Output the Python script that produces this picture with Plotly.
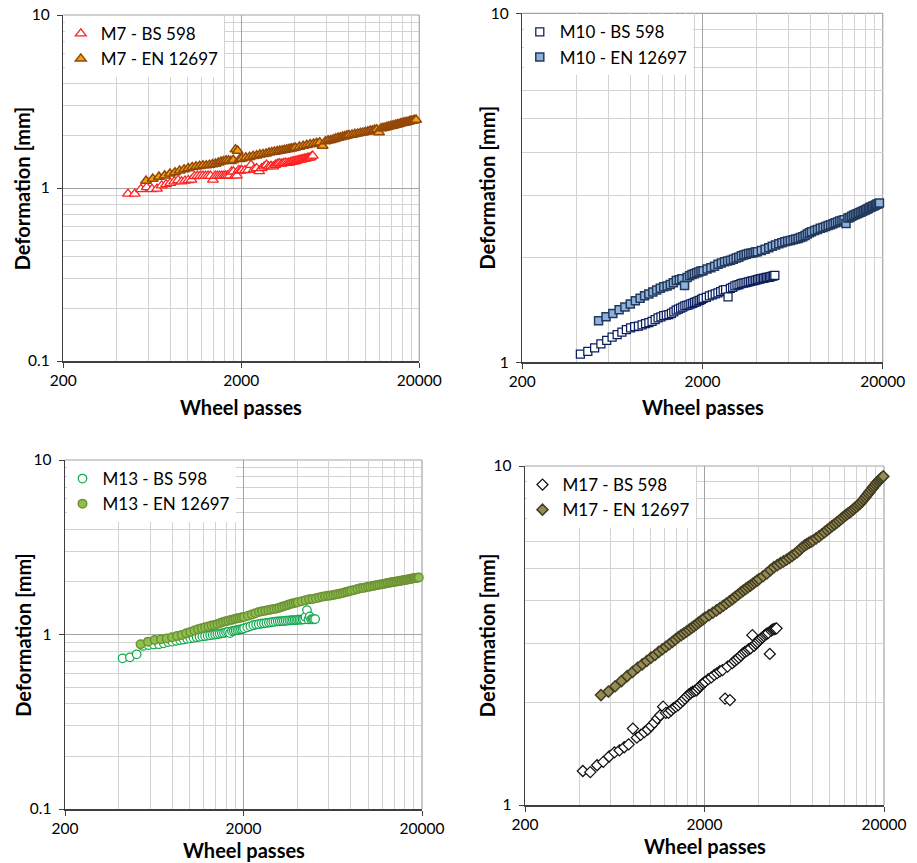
import math
import plotly.graph_objects as go

# ---------------- data ----------------
bs_passes = [420, 462, 504, 546, 588, 630, 672, 714, 756, 798, 840, 882, 924, 966, 1008,
             1050, 1092, 1134, 1176, 1218, 1260, 1302, 1344, 1386, 1428, 1470, 1512, 1554,
             1596, 1638, 1680, 1722, 1764, 1806, 1848, 1890, 1932, 1974, 2016,
             2100, 2184, 2268, 2352, 2436, 2520, 2604, 2688, 2772, 2856, 2940, 3024, 3108,
             3192, 3276, 3360, 3444, 3528, 3612, 3696, 3780, 3864, 3948, 4032, 4116, 4200,
             4284, 4368, 4452, 4536, 4620, 4704, 4788, 4872, 4956, 5040]

en_passes = [530, 583, 636, 689, 742, 795, 848, 901, 954, 1007, 1060, 1113, 1166, 1219, 1272,
             1325, 1378, 1431, 1484, 1537, 1590, 1643, 1696, 1749, 1802, 1855, 1908, 1961, 2014,
             2120, 2226, 2332, 2438, 2544, 2650, 2756, 2862, 2968, 3074, 3180, 3286, 3392, 3498,
             3604, 3710, 3816, 3922, 4028,
             4240, 4452, 4664, 4876, 5088, 5300, 5512, 5724, 5936, 6148, 6360, 6572, 6784, 6996,
             7208, 7420, 7632, 7844, 8056,
             8374, 8692, 9010, 9328, 9646, 9964, 10282, 10600, 10918, 11236, 11554, 11872, 12190,
             12508, 12826, 13144, 13462, 13780, 14098, 14416, 14734, 15052, 15370, 15688, 16006,
             16324, 16642, 16960, 17278, 17596, 17914, 18232, 18550, 18868, 19186, 19504, 19822]

m7_bs = [None, 0.925, 0.925, 0.985, 1.01, 0.985, 0.99, 1.035, 1.05, 1.07, 1.09, 1.11, 1.09, 1.10,
         1.11, 1.115, 1.17, 1.175, 1.175, 1.175, 1.175, 1.175, 1.175, 1.115, 1.175, 1.175, 1.175,
         1.175, 1.175, 1.18, 1.18, 1.18, 1.245, 1.245, 1.18, 1.18, 1.27, 1.26, 1.265,
         1.265, 1.27, 1.36, 1.28, 1.30, 1.25, 1.30, 1.33, 1.36, 1.33, 1.34, 1.33, 1.36, 1.38, 1.39,
         1.38, 1.39, 1.40, 1.395, 1.40, 1.41, 1.42, 1.425, 1.43, 1.44, 1.45, 1.455, 1.46, 1.47,
         1.475, 1.48, 1.49, 1.495, 1.50, 1.52, 1.535]

m7_en = [None, 1.10, 1.13, 1.16, 1.18, 1.21, 1.23, 1.26, 1.28, 1.30, 1.32, 1.33, 1.34, 1.35, 1.35,
         1.36, 1.37, 1.38, 1.40, 1.42, 1.43, 1.44, 1.44, 1.43, 1.45, 1.67, 1.64, 1.47, 1.48,
         1.50, 1.51, 1.53, 1.54, 1.56, 1.57, 1.58, 1.60, 1.61, 1.62, 1.63, 1.64, 1.65, 1.66, 1.67,
         1.68, 1.69, 1.70, 1.71,
         1.73, 1.75, 1.77, 1.79, 1.80, 1.82, 1.83, 1.75, 1.86, 1.88, 1.89, 1.91, 1.93, 1.95, 1.96,
         1.98, 1.99, 2.01, 2.02,
         2.03, 2.05, 2.06, 2.08, 2.09, 2.11, 2.12, 2.14, 2.15, 2.17, 2.18, 2.10, 2.21, 2.22, 2.23,
         2.25, 2.26, 2.28, 2.29, 2.30, 2.32, 2.33, 2.34, 2.36, 2.37, 2.38, 2.39, 2.40, 2.41, 2.43,
         2.44, 2.45, 2.46, 2.47, 2.48, None, None]

m10_bs = [1.055, 1.075, 1.10, 1.13, 1.155, 1.18, 1.20, 1.22, 1.24, 1.255, 1.265, 1.27, 1.28, 1.29,
          1.30, 1.31, 1.325, 1.34, 1.35, 1.36, 1.365, 1.37, 1.38, 1.395, 1.41, 1.42, 1.43, 1.44,
          1.45, 1.455, 1.46, 1.47, 1.475, 1.485, 1.49, 1.50, 1.505, 1.515, 1.525,
          1.535, 1.55, 1.56, 1.57, 1.58, 1.595, 1.61, 1.615, 1.54, 1.63, 1.64, 1.655, 1.665, 1.67,
          1.68, 1.685, 1.69, 1.695, 1.70, 1.705, 1.71, 1.715, 1.72, 1.725, 1.73, 1.735, 1.74, 1.74,
          1.745, 1.75, 1.75, 1.755, 1.76, 1.765, 1.77, 1.775]

m10_en = [1.315, 1.35, 1.38, 1.415, 1.44, 1.47, 1.50, 1.525, 1.55, 1.57, 1.59, 1.61, 1.63, 1.645,
          1.655, 1.67, 1.69, 1.715, 1.725, 1.735, 1.66, 1.75, 1.77, 1.785, 1.795, 1.805, 1.815,
          1.825, 1.83,
          1.85, 1.865, 1.885, 1.91, 1.925, 1.94, 1.95, 1.96, 1.975, 1.99, 2.00, 2.02, 2.03, 2.04,
          2.05, 2.055, 2.06, 2.07, 2.075,
          2.09, 2.11, 2.13, 2.15, 2.17, 2.185, 2.20, 2.215, 2.225, 2.235, 2.245, 2.255, 2.265, 2.28,
          2.29, 2.31, 2.33, 2.35, 2.365,
          2.385, 2.40, 2.42, 2.435, 2.45, 2.465, 2.48, 2.495, 2.51, 2.525, 2.54, 2.55, 2.56, 2.50,
          2.59, 2.60, 2.62, 2.64, 2.65, 2.665, 2.68, 2.69, 2.705, 2.72, 2.73, 2.745, 2.76, 2.775,
          2.785, 2.80, 2.81, 2.825, 2.835, 2.845, 2.86, None, None]

m13_bs = [0.73, 0.74, 0.77, 0.86, 0.87, 0.875, 0.88, 0.89, 0.905, 0.91, 0.92, 0.93, 0.935, 0.945,
          0.95, 0.955, 0.965, 0.97, 0.975, 0.98, 0.985, 0.99, 0.995, 1.00, 1.005, 1.01, 1.015,
          1.02, 1.03, 1.035, 1.02, 1.045, 1.05, 1.055, 1.06, 1.065, 1.07, 1.075, 1.085,
          1.10, 1.115, 1.13, 1.14, 1.145, 1.155, 1.16, 1.165, 1.17, 1.175, 1.18, 1.185, 1.19, 1.19,
          1.195, 1.195, 1.20, 1.20, 1.205, 1.205, 1.21, 1.21, 1.21, 1.215, 1.215, 1.215, 1.22, 1.22,
          1.26, 1.38, 1.22, 1.27, 1.22, 1.225, 1.22, 1.225]

m13_en = [0.88, 0.91, 0.93, 0.94, 0.95, 0.965, 0.98, 0.995, 1.015, 1.035, 1.055, 1.07, 1.085, 1.10,
          1.11, 1.125, 1.135, 1.15, 1.165, 1.18, 1.19, 1.20, 1.21, 1.22, 1.23, 1.24, 1.245, 1.255,
          1.26,
          1.28, 1.30, 1.325, 1.345, 1.36, 1.37, 1.38, 1.39, 1.40, 1.41, 1.425, 1.44, 1.455, 1.47,
          1.485, 1.50, 1.51, 1.52, 1.53,
          1.55, 1.57, 1.59, 1.60, 1.615, 1.63, 1.645, 1.655, 1.665, 1.675, 1.685, 1.695, 1.705, 1.72,
          1.73, 1.745, 1.76, 1.77, 1.785,
          1.80, 1.82, 1.84, 1.85, 1.86, 1.875, 1.885, 1.895, 1.91, 1.92, 1.93, 1.94, 1.95, 1.96,
          1.97, 1.98, 1.99, 2.00, 2.005, 2.015, 2.02, 2.03, 2.035, 2.045, 2.05, 2.06, 2.065, 2.075,
          2.085, 2.09, 2.10, 2.105, 2.11, 2.115, 2.12, None, None]

m17_bs = [1.26, 1.25, 1.31, 1.34, 1.39, 1.43, 1.45, 1.48, 1.51, 1.68, 1.58, 1.61, 1.64, 1.67, 1.71,
          1.75, 1.80, 1.84, 1.95, 1.87, 1.87, 1.90, 1.93, 1.95, 1.97, 2.00, 2.03, 2.06, 2.09, 2.12,
          2.14, 2.16, 2.17, 2.18, 2.21, 2.24, 2.27, 2.29, 2.31,
          2.35, 2.38, 2.42, 2.45, 2.48, 2.50, 2.06, 2.56, 2.04, 2.62, 2.66, 2.69, 2.72, 2.76, 2.80,
          2.83, 2.85, 2.88, 2.90, 3.17, 2.95, 2.99, 3.02, 3.06, 3.09, 3.12, 3.15, 3.18, 3.20, 3.22,
          2.79, 3.27, 3.29, 3.30, 3.31, 3.32]

m17_en = [2.11, 2.16, 2.24, 2.32, 2.40, 2.47, 2.54, 2.60, 2.66, 2.72, 2.77, 2.83, 2.88, 2.93, 2.98,
          3.03, 3.08, 3.13, 3.17, 3.21, 3.25, 3.29, 3.33, 3.37, 3.41, 3.45, 3.49, 3.53, 3.57,
          3.63, 3.69, 3.75, 3.81, 3.87, 3.93, 3.99, 4.05, 4.11, 4.17, 4.23, 4.29, 4.34, 4.39, 4.44,
          4.49, 4.54, 4.59, 4.64,
          4.73, 4.82, 4.93, 5.03, 5.10, 5.17, 5.23, 5.29, 5.36, 5.43, 5.50, 5.57, 5.66, 5.75, 5.82,
          5.88, 5.93, 5.98, 6.03,
          6.12, 6.20, 6.29, 6.38, 6.47, 6.56, 6.65, 6.73, 6.81, 6.89, 6.98, 7.07, 7.15, 7.22, 7.29,
          7.36, 7.44, 7.52, 7.60, 7.68, 7.76, 7.86, 7.96, 8.07, 8.18, 8.29, 8.40, 8.51, 8.62, 8.72,
          8.82, 8.92, 9.02, 9.10, 9.18, 9.25, 9.32]

x_tick_labels = ["200", "2000", "20000"]
y_tick_labels_wide = ["0.1", "1", "10"]
y_tick_labels_narrow = ["1", "10"]
x_axis_title = "Wheel passes"
y_axis_title = "Deformation [mm]"

# ---------------- styling ----------------
FONT = "Lato, 'Open Sans', 'DejaVu Sans', sans-serif"
W, H = 917, 863

panels = [
    dict(mix="M7", bs=m7_bs, en=m7_en, sym="triangle-up", size=9.5,
         bs_line="#FF1F1F", en_fill="#F0A30A", en_line="#93470A",
         px=(63.3, 419.3), py=(15.0, 361.0), yr=(0.1, 10), ytitle_x=22.3, xtitle_y=407),
    dict(mix="M10", bs=m10_bs, en=m10_en, sym="square", size=8,
         bs_line="#0A1E5E", en_fill="#8FB2DD", en_line="#22395C",
         px=(522.3, 882.7), py=(13.3, 362.3), yr=(1, 10), ytitle_x=486.7, xtitle_y=406.7),
    dict(mix="M13", bs=m13_bs, en=m13_en, sym="circle", size=8.5,
         bs_line="#12A84E", en_fill="#8CC14E", en_line="#6E9136",
         px=(65.0, 422.0), py=(460.0, 809.0), yr=(0.1, 10), ytitle_x=22.3, xtitle_y=850),
    dict(mix="M17", bs=m17_bs, en=m17_en, sym="diamond", size=8.5,
         bs_line="#111111", en_fill="#958B55", en_line="#433D22",
         px=(525.0, 884.0), py=(466.0, 805.0), yr=(1, 10), ytitle_x=486.7, xtitle_y=846),
]

x_minor = [400, 600, 800, 1000, 1200, 1400, 1600, 1800,
           4000, 6000, 8000, 10000, 12000, 14000, 16000, 18000]
y_minor_all = [0.2, 0.3, 0.4, 0.5, 0.6, 0.7, 0.8, 0.9, 2, 3, 4, 5, 6, 7, 8, 9]

fig = go.Figure()
layout = dict(width=W, height=H, margin=dict(l=0, r=0, t=0, b=0),
              paper_bgcolor="white", plot_bgcolor="white", showlegend=True,
              font=dict(family=FONT, color="#000000"))
annotations = []
shapes = []

for i, p in enumerate(panels, start=1):
    sfx = "" if i == 1 else str(i)
    xa, ya = "x" + sfx, "y" + sfx
    leg = "legend" + sfx
    x0, x1 = p["px"]
    y0, y1 = p["py"]
    xdom = [x0 / W, x1 / W]
    ydom = [(H - y1) / H, (H - y0) / H]
    lo, hi = p["yr"]

    fig.add_trace(go.Scatter(
        x=bs_passes, y=p["bs"], mode="markers", name=p["mix"] + " - BS 598",
        xaxis=xa, yaxis=ya, legend=leg, cliponaxis=False,
        marker=dict(symbol=p["sym"], size=p["size"], color="white",
                    line=dict(color=p["bs_line"], width=1.25))))
    fig.add_trace(go.Scatter(
        x=en_passes, y=p["en"], mode="markers", name=p["mix"] + " - EN 12697",
        xaxis=xa, yaxis=ya, legend=leg, cliponaxis=False,
        marker=dict(symbol=p["sym"], size=p["size"], color=p["en_fill"],
                    line=dict(color=p["en_line"], width=1.5))))

    if lo < 1:
        yvals, ytext = [0.1, 1, 10], y_tick_labels_wide
    else:
        yvals, ytext = [1, 10], y_tick_labels_narrow
    yminor = [v for v in y_minor_all if lo < v < hi]

    layout["xaxis" + sfx] = dict(
        type="log", domain=xdom, anchor=ya, range=[math.log10(200), math.log10(20000)],
        tickmode="array", tickvals=[200, 2000, 20000], ticktext=x_tick_labels,
        showgrid=True, gridcolor="#A3A3A3", gridwidth=1,
        minor=dict(tickmode="array", tickvals=x_minor, showgrid=True,
                   gridcolor="#D2D2D2", gridwidth=1, ticks=""),
        showline=True, linecolor="#3F3F3F", linewidth=1.5,
        ticks="outside", ticklen=5, tickcolor="#3F3F3F", tickwidth=1,
        tickfont=dict(family=FONT, size=15.5, color="#000000"),
        zeroline=False, fixedrange=True, automargin=False)
    layout["yaxis" + sfx] = dict(
        type="log", domain=ydom, anchor=xa, range=[math.log10(lo), math.log10(hi)],
        tickmode="array", tickvals=yvals, ticktext=ytext,
        showgrid=True, gridcolor="#A3A3A3", gridwidth=1,
        minor=dict(tickmode="array", tickvals=yminor, showgrid=True,
                   gridcolor="#D2D2D2", gridwidth=1, ticks=""),
        showline=True, linecolor="#3F3F3F", linewidth=1.5,
        ticks="outside", ticklen=5, tickcolor="#3F3F3F", tickwidth=1,
        ticklabelstandoff=4,
        tickfont=dict(family=FONT, size=15.5, color="#000000"),
        zeroline=False, fixedrange=True, automargin=False)
    layout[leg] = dict(
        x=xdom[0] + 1.5 / W, y=ydom[1] - 1.0 / H, xanchor="left", yanchor="top",
        bgcolor="white", borderwidth=0, font=dict(family=FONT, size=17, color="#000000"),
        indentation=-4, tracegroupgap=0, itemclick=False, itemdoubleclick=False)

    # top / right frame lines of the plot area
    shapes.append(dict(type="line", xref=xa + " domain", yref=ya + " domain",
                       x0=0, x1=1, y0=1, y1=1, line=dict(color="#A3A3A3", width=1.2),
                       layer="below"))
    shapes.append(dict(type="line", xref=xa + " domain", yref=ya + " domain",
                       x0=1, x1=1, y0=0, y1=1, line=dict(color="#A3A3A3", width=1.2),
                       layer="below"))

    annotations.append(dict(text="<b>" + x_axis_title + "</b>", xref="paper", yref="paper",
                            x=(x0 + x1) / 2 / W, y=(H - p["xtitle_y"]) / H,
                            xanchor="center", yanchor="middle", showarrow=False,
                            font=dict(family=FONT, size=20, color="#000000")))
    annotations.append(dict(text="<b>" + y_axis_title + "</b>", xref="paper", yref="paper",
                            x=p["ytitle_x"] / W, y=(H - (y0 + y1) / 2) / H,
                            xanchor="center", yanchor="middle", textangle=-90,
                            showarrow=False,
                            font=dict(family=FONT, size=20, color="#000000")))

layout["annotations"] = annotations
layout["shapes"] = shapes
layout["hovermode"] = False
fig.update_layout(**layout)

fig.write_html("out.html",
               config={"displayModeBar": False, "staticPlot": True},
               post_script="document.body.style.margin='0px';document.body.style.padding='0px';")
